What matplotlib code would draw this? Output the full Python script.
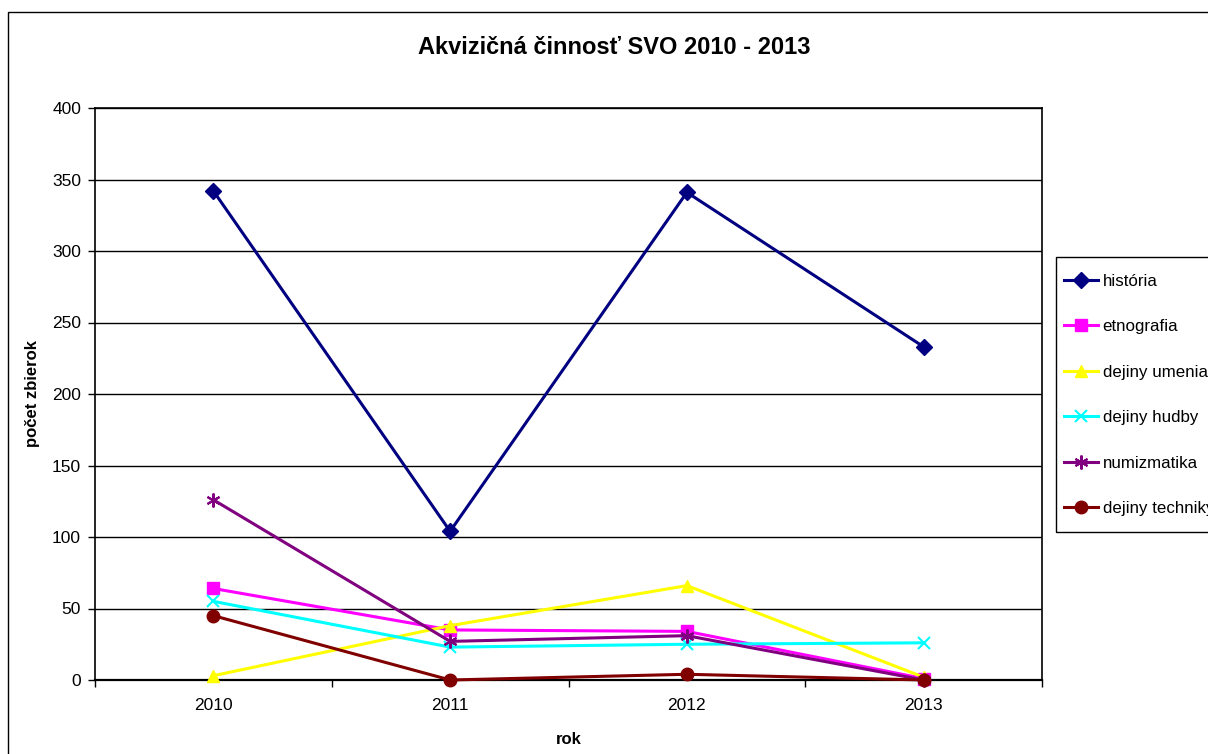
import numpy as np
import matplotlib.pyplot as plt
from matplotlib.patches import Rectangle
from matplotlib.ticker import MultipleLocator

plt.rcParams['font.family'] = ['Liberation Sans', 'DejaVu Sans']

years = ['2010', '2011', '2012', '2013']
historia = [342, 104, 341, 233]
etnografia = [64, 35, 34, 1]
dejiny_umenia = [3, 38, 66, 2]
dejiny_hudby = [55, 23, 25, 26]
numizmatika = [126, 27, 31, 0]
dejiny_techniky = [45, 0, 4, 0]

series = [
    ('história', historia, '#000080', 'D', 8),
    ('etnografia', etnografia, '#FF00FF', 's', 9),
    ('dejiny umenia', dejiny_umenia, '#FFFF00', '^', 9),
    ('dejiny hudby', dejiny_hudby, '#00FFFF', 'x', 9),
    ('numizmatika', numizmatika, '#800080', (6, 2, 0), 10),
    ('dejiny techniky', dejiny_techniky, '#800000', 'o', 9),
]

W, H = 1208, 754
fig = plt.figure(figsize=(W / 100, H / 100), dpi=100)

# outer chart border (runs off the right and bottom edges)
fig.patches.append(Rectangle((8 / W, -0.05), 1.2, 1 - 12 / H + 0.05,
                             transform=fig.transFigure, fill=False,
                             edgecolor='black', linewidth=1.0))
# legend box, also running off the right edge
fig.patches.append(Rectangle((1056 / W, 1 - 532 / H), 0.2, (532 - 257) / H,
                             transform=fig.transFigure, fill=False,
                             edgecolor='black', linewidth=1.0))

ax = fig.add_axes([95 / W, 1 - 680 / H, (1042 - 95) / W, (680 - 108) / H])

x = np.arange(len(years))
for name, vals, col, mk, ms in series:
    ax.plot(x, vals, color=col, linewidth=2.2, marker=mk, markersize=ms,
            markeredgewidth=1.5 if mk in ('x', (6, 2, 0)) else 1,
            markeredgecolor=col, markerfacecolor=col, label=name,
            clip_on=False, zorder=3)

ax.set_xlim(-0.5, len(years) - 0.5)
ax.set_ylim(0, 400)
ax.yaxis.set_major_locator(MultipleLocator(50))
ax.grid(axis='y', color='black', linewidth=1.0)
ax.set_axisbelow(True)

# category ticks at boundaries, labels in the middle
ax.set_xticks(np.arange(-0.5, len(years), 1.0))
ax.set_xticklabels([])
ax.set_xticks(x, minor=True)
ax.set_xticklabels(years, minor=True)
ax.tick_params(axis='x', which='major', length=5, direction='out', width=1)
ax.tick_params(axis='x', which='minor', length=0, pad=13, labelsize=12.5)
ax.tick_params(axis='y', length=5, direction='out', width=1, labelsize=12.5, pad=5)

for s in ax.spines.values():
    s.set_color('black')
    s.set_linewidth(1.2)
ax.spines['bottom'].set_linewidth(1.6)

ax.set_xlabel('rok', fontsize=12, fontweight='bold')
ax.set_ylabel('počet zbierok', fontsize=12, fontweight='bold')
ax.xaxis.set_label_coords(0.5, (680 - 732) / 572)
ax.yaxis.set_label_coords((40 - 95) / 947, 0.5)
fig.text(614 / W, 1 - 48 / H, 'Akvizičná činnosť SVO 2010 - 2013',
         ha='center', va='center', fontsize=17, fontweight='bold')

leg = fig.legend(loc='upper left', bbox_to_anchor=(1056 / W, 1 - 266 / H),
                 frameon=False, fontsize=12.2, labelspacing=1.8,
                 handlelength=2.0, handletextpad=0.3, borderpad=0.45,
                 borderaxespad=0, markerscale=1.0)

fig.savefig('out.png', dpi=100)
